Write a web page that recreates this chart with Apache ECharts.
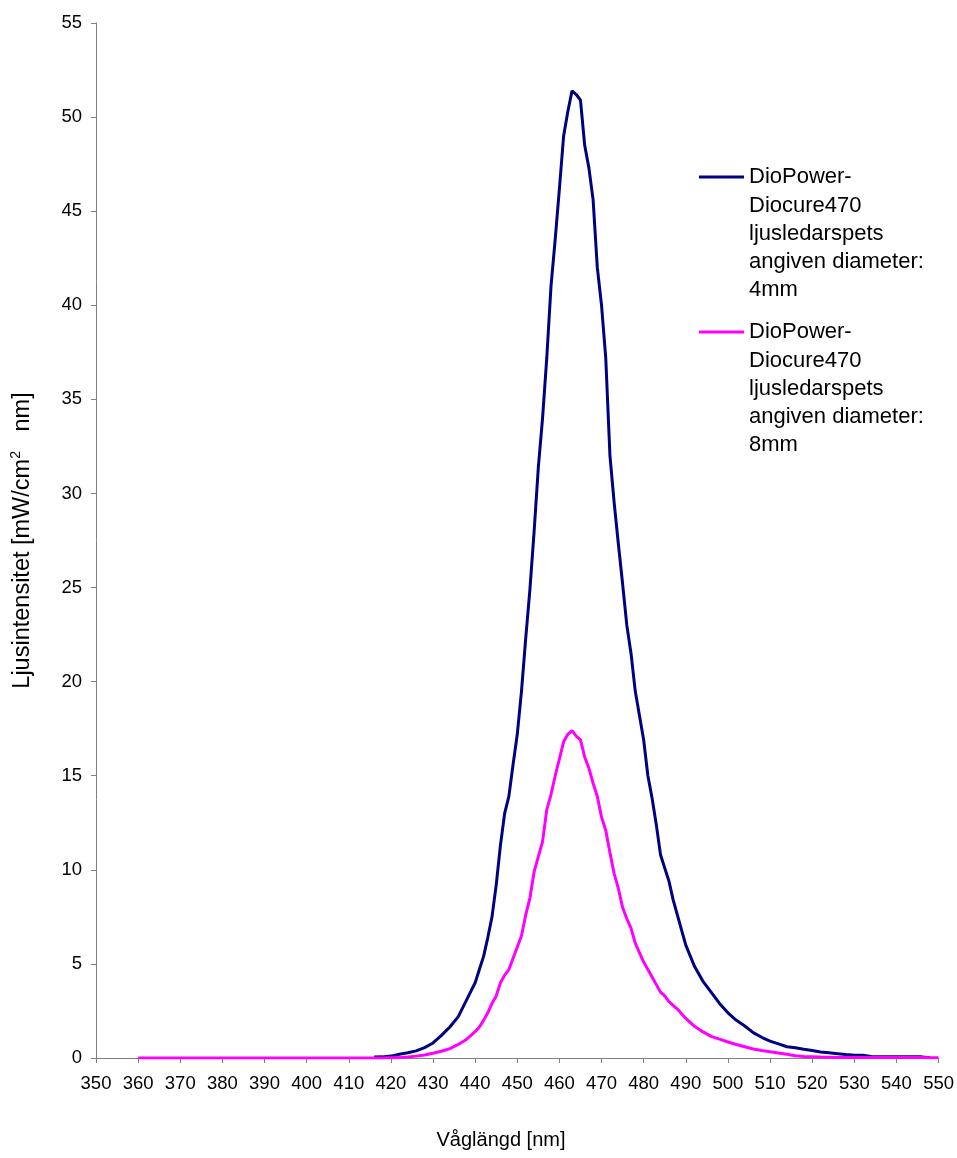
<!DOCTYPE html>
<html>
<head>
<meta charset="utf-8">
<script src="https://cdn.jsdelivr.net/npm/echarts@6/dist/echarts.min.js"></script>
<style>
  html, body { margin: 0; padding: 0; background: #fff; }
  #chart { width: 957px; height: 1158px; }
</style>
</head>
<body>
<div id="chart"></div>
<script>
// wavelength [nm]
const wavelengths = [
  360, 370, 380, 390, 400, 410, 416, 418, 420, 422, 424, 426, 428, 430, 432, 434, 436, 438,
  440, 441, 442, 443, 444, 445, 446, 447, 448, 449, 450, 451, 452, 453, 454, 455, 456, 457,
  458, 459, 460, 461, 462, 463, 464, 465, 466, 467, 468, 469, 470, 471, 472, 473, 474, 475,
  476, 477, 478, 479, 480, 481, 482, 483, 484, 485, 486, 487, 488, 489, 490,
  492, 494, 496, 498, 500, 502, 504, 506, 508, 510, 512, 514, 516, 518, 520, 522, 524, 526,
  528, 530, 532, 534, 536, 538, 540, 542, 544, 546, 548, 550
];
// 4mm tip
const diam4 = [
  null, null, null, null, null, null, 0.05, 0.06, 0.1, 0.2, 0.28, 0.38, 0.55, 0.8, 1.2, 1.65, 2.2, 3.1,
  4.0, 4.7, 5.4, 6.4, 7.5, 9.2, 11.3, 13.0, 13.9, 15.6, 17.2, 19.5, 22.3, 24.9, 28.0, 31.4, 34.0, 37.2,
  41.0, 43.5, 46.2, 49.0, 50.3, 51.4, 51.2, 50.9, 48.5, 47.3, 45.6, 42.0, 40.0, 37.2, 32.0, 29.5, 27.3, 25.2,
  23.0, 21.5, 19.5, 18.2, 16.9, 15.0, 13.8, 12.4, 10.8, 10.1, 9.4, 8.4, 7.6, 6.8, 6.0,
  4.9, 4.1, 3.5, 2.9, 2.4, 2.0, 1.7, 1.35, 1.1, 0.9, 0.75, 0.6, 0.55, 0.47, 0.4, 0.32, 0.28, 0.23,
  0.18, 0.15, 0.15, 0.08, 0.07, 0.07, 0.07, 0.06, 0.06, 0.06, 0.02, null
];
// 8mm tip
const diam8 = [
  0, 0, 0, 0, 0, 0, 0, 0, 0.01, 0.02, 0.05, 0.1, 0.16, 0.25, 0.36, 0.5, 0.72, 1.0,
  1.4, 1.65, 2.0, 2.4, 2.9, 3.3, 4.0, 4.4, 4.7, 5.3, 5.9, 6.5, 7.6, 8.5, 9.9, 10.7, 11.5, 13.2,
  14.0, 15.0, 15.9, 16.8, 17.2, 17.4, 17.1, 16.9, 16.0, 15.4, 14.6, 13.9, 12.8, 12.1, 10.9, 9.8, 9.0, 8.0,
  7.4, 6.9, 6.1, 5.6, 5.1, 4.7, 4.3, 3.9, 3.5, 3.3, 3.0, 2.8, 2.6, 2.35, 2.1,
  1.7, 1.4, 1.15, 1.0, 0.85, 0.72, 0.6, 0.48, 0.4, 0.33, 0.27, 0.2, 0.12, 0.08, 0.07, 0.05, 0.04, 0.03,
  0.02, 0.02, 0.02, 0.02, 0.02, 0.02, 0.02, 0.02, 0.02, 0.02, 0.01, 0.01
];
const seriesNames = [
  'DioPower-\nDiocure470\nljusledarspets\nangiven diameter:\n4mm',
  'DioPower-\nDiocure470\nljusledarspets\nangiven diameter:\n8mm'
];
const seriesColors = ['#000080', '#FF00FF'];

const font = "'Liberation Sans', Arial, sans-serif";
let myChart = echarts.init(document.getElementById('chart'));

let seriesData = [diam4, diam8].map(vals => wavelengths.map((w, i) => [w, vals[i]]));

let option = {
  backgroundColor: '#fff',
  animation: false,
  grid: {
    left: 96,
    right: 18,
    top: 23,
    bottom: 100,
    containLabel: false
  },
  xAxis: {
    type: 'value',
    min: 350,
    max: 550,
    interval: 10,
    axisLine: { lineStyle: { color: '#808080', width: 1 } },
    axisTick: { show: true, length: 5, lineStyle: { color: '#808080' } },
    axisLabel: { margin: 16, color: '#000', fontSize: 18.5, fontFamily: font },
    splitLine: { show: false }
  },
  yAxis: {
    type: 'value',
    min: 0,
    max: 55,
    interval: 5,
    name: 'Ljusintensitet [mW/cm{sup|2}   nm]',
    nameLocation: 'middle',
    nameRotate: 90,
    nameGap: 59,
    nameTextStyle: {
      color: '#000',
      fontSize: 23.5,
      fontFamily: font,
      rich: {
        sup: { fontSize: 14, fontFamily: font, color: '#000', padding: [0, 0, 14, 0] }
      }
    },
    axisLine: { show: true, lineStyle: { color: '#808080', width: 1 } },
    axisTick: { show: true, length: 5, lineStyle: { color: '#808080' } },
    axisLabel: { margin: 14, color: '#000', fontSize: 18.5, fontFamily: font },
    splitLine: { show: false }
  },
  graphic: [
    {
      type: 'text',
      x: 501,
      y: 1140,
      style: {
        text: 'Våglängd [nm]',
        align: 'center', verticalAlign: 'middle',
        fill: '#000', fontSize: 20, fontFamily: font
      }
    },
    {
      type: 'line',
      shape: { x1: 699, y1: 177, x2: 744, y2: 177 },
      style: { stroke: seriesColors[0], lineWidth: 3 }
    },
    {
      type: 'text',
      x: 749,
      y: 163,
      style: {
        text: seriesNames[0],
        align: 'left', verticalAlign: 'top', lineHeight: 28.3,
        fill: '#000', fontSize: 22, fontFamily: font
      }
    },
    {
      type: 'line',
      shape: { x1: 699, y1: 332, x2: 744, y2: 332 },
      style: { stroke: seriesColors[1], lineWidth: 3 }
    },
    {
      type: 'text',
      x: 749,
      y: 318,
      style: {
        text: seriesNames[1],
        align: 'left', verticalAlign: 'top', lineHeight: 28.3,
        fill: '#000', fontSize: 22, fontFamily: font
      }
    }
  ],
  series: seriesData.map((d, i) => ({
    name: seriesNames[i],
    type: 'line',
    data: d,
    symbol: 'none',
    smooth: false,
    connectNulls: false,
    lineStyle: { color: seriesColors[i], width: 3 },
    itemStyle: { color: seriesColors[i] },
    z: i === 0 ? 2 : 3
  }))
};
myChart.setOption(option);
window.onresize = function () {
  myChart.resize()
}
</script>
</body>
</html>
